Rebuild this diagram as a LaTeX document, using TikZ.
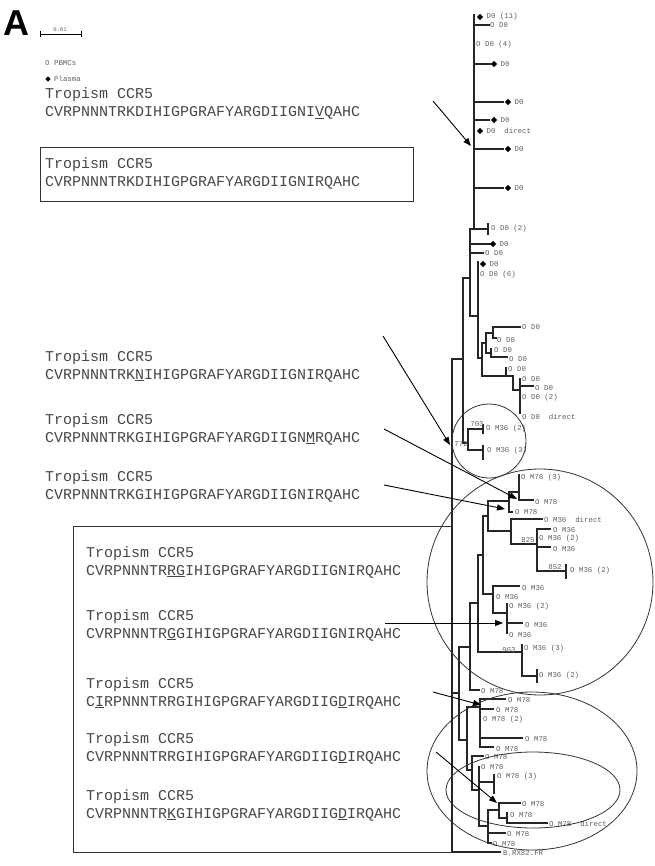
\documentclass[tikz,border=0pt]{standalone}
\usepackage{fontspec}
\usepackage{tikz}
\usetikzlibrary{arrows.meta,positioning,shapes.geometric}
\newfontfamily\seqfont{Liberation Mono}
\newfontfamily\panelfont{Liberation Sans}
\definecolor{inkgrey}{HTML}{474747}
\definecolor{labgrey}{HTML}{5E5E5E}
\newcommand{\mut}[1]{\underline{#1}}
\tikzset{
	seqtext/.style={anchor=base west, inner sep=0pt, text=inkgrey, font=\seqfont\fontsize{15}{18}\selectfont},
	leaflab/.style={anchor=west, inner sep=0pt, text=labgrey, font=\seqfont\fontsize{7.4}{8}\selectfont},
	bootlab/.style={inner sep=0pt, text=labgrey, font=\seqfont\fontsize{7.4}{8}\selectfont},
	plasma/.style={diamond, fill=black, inner sep=0pt, minimum size=6.5pt},
	branch/.style={line width=1.2pt, color=black!85, line cap=rect},
	ring/.style={line width=0.8pt, color=black!80},
	framebox/.style={line width=1pt, color=black!80},
	pointer/.style={line width=0.9pt, -{Triangle[length=8pt,width=6pt]}}
}

\begin{document}
\begin{tikzpicture}[x=1pt, y=-1pt]
	%%%%% START %%%%%
	\useasboundingbox (0,0) rectangle (654,866);
	
	% panel letter, scale bar, legend
	\node[anchor=base west, inner sep=0pt, font=\panelfont\bfseries\fontsize{36}{36}\selectfont] (panel) at (3,36) {A};
	\draw[line width=0.8pt] (40,34) -- (81,34) (40,31) -- (40,37) (81,31) -- (81,37);
	\node[bootlab, font=\seqfont\fontsize{5.5}{6}\selectfont] (scale) at (60,30) {0.01};
	\node[leaflab] (legpbmc) at (45,63) {O PBMCs};
	\node[plasma, minimum size=5.5pt] (legdia) at (48,79) {};
	\node[leaflab, right=3pt of legdia] (legplasma) {Plasma};
	
	% sequences
	\foreach \n/\x/\y/\s in {
		a/45/99/CVRPNNNTRKDIHIGPGRAFYARGDIIGNI\mut{V}QAHC,
		b/45/169/CVRPNNNTRKDIHIGPGRAFYARGDIIGNIRQAHC,
		c/45/361/CVRPNNNTRK\mut{N}IHIGPGRAFYARGDIIGNIRQAHC,
		d/45/424/CVRPNNNTRKGIHIGPGRAFYARGDIIGN\mut{M}RQAHC,
		e/45/481/CVRPNNNTRKGIHIGPGRAFYARGDIIGNIRQAHC,
		f/86/557/CVRPNNNTR\mut{RG}IHIGPGRAFYARGDIIGNIRQAHC,
		g/86/620/CVRPNNNTR\mut{G}GIHIGPGRAFYARGDIIGNIRQAHC,
		h/86/688/C\mut{I}RPNNNTRRGIHIGPGRAFYARGDIIG\mut{D}IRQAHC,
		i/86/743/CVRPNNNTRRGIHIGPGRAFYARGDIIG\mut{D}IRQAHC,
		j/86/800/CVRPNNNTR\mut{K}GIHIGPGRAFYARGDIIG\mut{D}IRQAHC}
	{
		\node[seqtext] (trop\n) at (\x,\y) {Tropism CCR5};
		\node[seqtext] (seq\n) at (\x,\y+18) {\s};
	}
	\draw[framebox] (40,148) rectangle (413,202);
	\draw[framebox] (73,526) rectangle (452,852);
	
	% tree: D0 part
	\draw[branch, line width=1.8pt] (474,15) -- (474,229);
	\draw[branch] (474,25) -- (489,25) (474,64) -- (490,64) (474,102) -- (503,102)
		(474,120) -- (489,120) (474,149) -- (503,149) (474,188) -- (503,188)
		(470,229) -- (488,229) (488,224) -- (488,234)
		(470,229) -- (470,316) (470,244) -- (490,244) (470,253) -- (483,253)
		(470,316) -- (478,316) (478,262) -- (478,358)
		(478,358) -- (482,358) (482,343) -- (482,376)
		(482,343) -- (486,343) (486,333) -- (486,353)
		(486,333) -- (493,333) (493,327) -- (493,338) (493,327) -- (520,327) (493,338) -- (496,338)
		(486,353) -- (491,353) (491,349) -- (491,357) (491,357) -- (507,357)
		(482,376) -- (513,376) (506,368) -- (506,376)
		(513,376) -- (513,390) (513,390) -- (520,390) (520,379) -- (520,413) (520,386) -- (533,386)
		(463,278) -- (470,278) (463,278) -- (463,443) (452,359) -- (463,359)
		(452,359) -- (452,852) -- (500,852)
		(463,443) -- (468,443) (468,429) -- (468,450)
		(468,429) -- (483,429) (483,425) -- (483,433)
		(468,450) -- (483,450) (483,446) -- (483,459);
	
	% tree: M36 / M78 part
	\draw[branch] (452,693) -- (459,693) (459,647) -- (459,740) (459,647) -- (470,647)
		(470,603) -- (470,690) (470,690) -- (479,690) (470,603) -- (478,603)
		(478,555) -- (478,652) (478,555) -- (483,555) (483,516) -- (483,594)
		(483,516) -- (488,516) (488,501) -- (488,531) (488,501) -- (509,501)
		(509,492) -- (509,512) (509,492) -- (519,492) (519,475) -- (519,500) (519,500) -- (533,500)
		(509,512) -- (512,512)
		(488,531) -- (511,531) (511,519) -- (511,544) (511,519) -- (542,519) (511,544) -- (537,544)
		(537,529) -- (537,571) (537,529) -- (550,529) (537,547) -- (550,547)
		(537,571) -- (566,571) (566,565) -- (566,578)
		(483,594) -- (493,594) (493,586) -- (493,613) (493,586) -- (519,586)
		(493,613) -- (507,613) (507,604) -- (507,633) (507,623) -- (522,623)
		(478,652) -- (522,652) (522,645) -- (522,676) (522,676) -- (537,676) (537,670) -- (537,682);
	
	% tree: lower M78 part
	\draw[branch] (459,740) -- (467,740) (467,707) -- (467,770) (467,707) -- (480,707)
		(480,699) -- (480,747) (480,699) -- (505,699) (480,709) -- (493,709)
		(480,738) -- (522,738) (480,747) -- (493,747)
		(467,770) -- (472,770) (472,756) -- (472,790) (472,756) -- (483,756)
		(472,790) -- (479,790) (479,767) -- (479,826)
		(479,782) -- (494,782) (494,775) -- (494,793)
		(479,826) -- (488,826) (488,810) -- (488,843)
		(488,810) -- (499,810) (499,803) -- (499,818) (499,803) -- (520,803)
		(499,818) -- (507,818) (507,813) -- (507,823) (507,823) -- (547,823)
		(488,833) -- (505,833) (488,843) -- (491,843);
	
	% plasma leaves
	\foreach \x/\y/\t [count=\i] in {480/17/D0 (11), 494/64/D0, 508/102/D0, 494/120/D0,
		480/131/D0\ \ direct, 508/149/D0, 508/188/D0, 493/244/D0, 483/264/D0}
	{
		\node[plasma] (pd\i) at (\x,\y) {};
		\node[leaflab, right=3pt of pd\i] (pl\i) {\t};
	}
	
	% PBMC leaves
	\foreach \x/\y/\t [count=\i] in {490/25/D0, 476/45/D0 (4), 491/229/D0 (2), 485/253/D0,
		480/275/D0 (6), 522/327/D0, 497/340/D0, 494/350/D0, 509/359/D0, 508/369/D0,
		522/379/D0, 535/388/D0, 522/398/D0 (2), 522/417/D0\ \ direct,
		486/429/M36 (2), 487/451/M36 (3),
		521/478/M78 (3), 535/502/M78, 515/512/M78, 544/520/M36\ \ direct,
		553/530/M36, 539/539/M36 (2), 553/549/M36, 570/571/M36 (2),
		522/588/M36, 496/597/M36, 509/607/M36 (2), 525/625/M36, 509/635/M36,
		524/649/M36 (3), 539/676/M36 (2), 481/691/M78,
		508/700/M78, 496/710/M78, 483/720/M78 (2), 525/739/M78, 496/749/M78,
		485/757/M78, 481/767/M78, 497/777/M78 (3), 522/804/M78, 510/815/M78,
		549/824/M78\ \ direct, 507/834/M78, 493/844/M78}
	{
		\node[leaflab] (pb\i) at (\x,\y) {O \t};
	}
	\node[leaflab] (outgroup) at (503,853) {B.RX82.FR};
	
	% bootstrap values
	\node[bootlab] (bs703) at (477,424) {703};
	\node[bootlab] (bs772) at (461,444) {772};
	\node[bootlab] (bs825) at (528,540) {825};
	\node[bootlab] (bs852) at (555,567) {852};
	\node[bootlab] (bs963) at (509,650) {963};
	
	% clusters
	\draw[ring] (489,441) circle (37);
	\draw[ring] (540,582) circle (113);
	\draw[ring] (532,771) ellipse (105 and 79);
	\draw[ring] (533,790) ellipse (87 and 38);
	
	% arrows to the tree
	\coordinate (s1) at (433,101); \coordinate (t1) at (471,146);
	\coordinate (s2) at (383,336); \coordinate (t2) at (450,445);
	\coordinate (s3) at (384,429); \coordinate (t3) at (517,499);
	\coordinate (s4) at (384,485); \coordinate (t4) at (505,509);
	\coordinate (s5) at (385,623); \coordinate (t5) at (503,623);
	\coordinate (s6) at (433,692); \coordinate (t6) at (481,705);
	\coordinate (s7) at (436,752); \coordinate (t7) at (497,803);
	\foreach \k in {1,...,7}
		\draw[pointer] (s\k) -- (t\k);
	
	%%%%% END %%%%%
\end{tikzpicture}
\end{document}
